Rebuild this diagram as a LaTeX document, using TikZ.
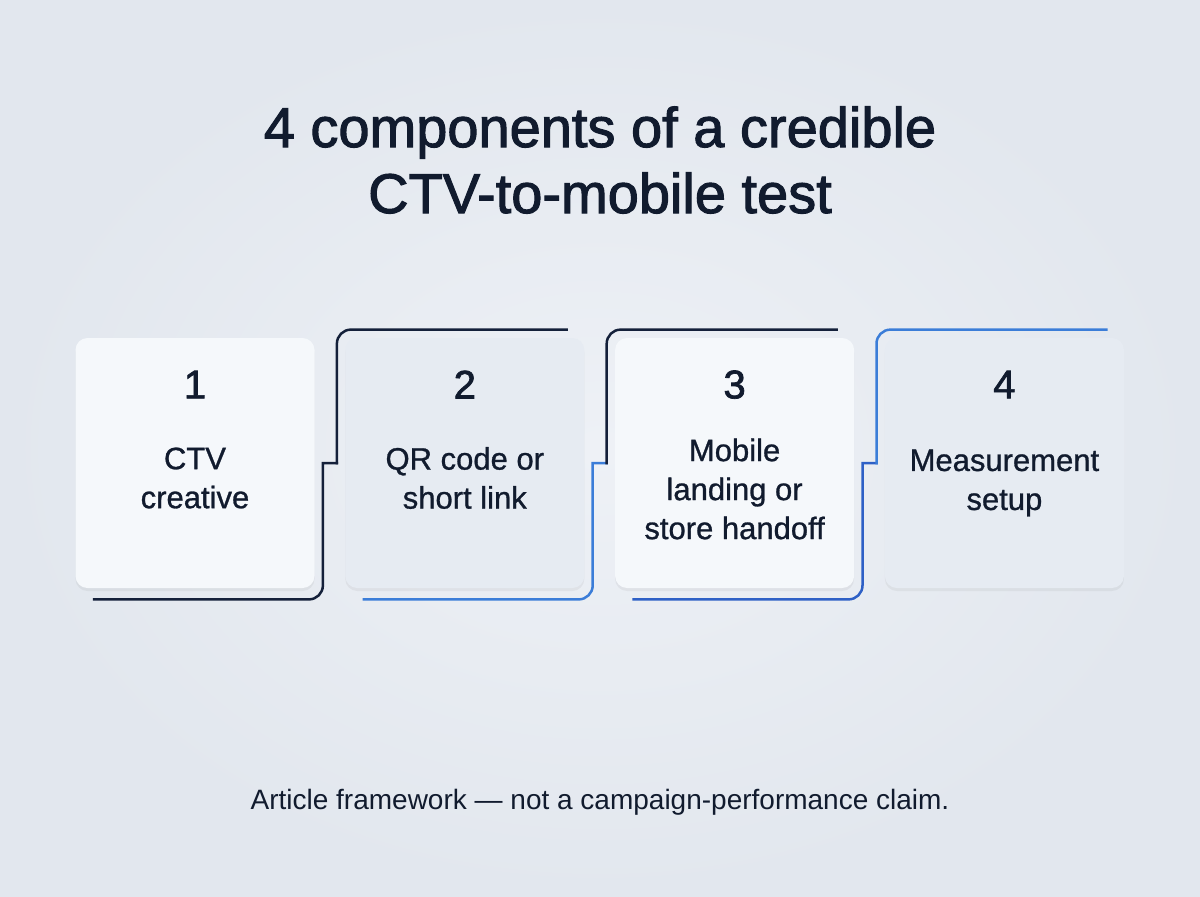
\documentclass[tikz,border=0pt]{standalone}
\usepackage{fontspec}
\setmainfont{Liberation Sans}
\newfontfamily\headfont{Liberation Sans}[FakeBold=1.8]
\newfontfamily\cardfont{Liberation Sans}[FakeBold=0.9]
\usetikzlibrary{positioning,calc,shadows}
\definecolor{bglight}{HTML}{EEF1F6}
\definecolor{bgdark}{HTML}{E2E7EE}
\definecolor{inkdark}{HTML}{111B2E}
\definecolor{linknavy}{HTML}{14203A}
\definecolor{linkblue}{HTML}{3B7DD8}
\definecolor{linkdeep}{HTML}{2E60C6}
\definecolor{cardlight}{HTML}{F5F8FB}
\definecolor{cardgrey}{HTML}{E6EBF2}

\begin{document}
\begin{tikzpicture}[
  x=0.5pt, y=-0.5pt,
  card/.style={rounded corners=6pt, minimum width=119.5pt, minimum height=125pt,
               inner sep=0pt,
               drop shadow={shadow xshift=0pt, shadow yshift=-1.5pt, opacity=0.10}},
  numtxt/.style={text=inkdark, font=\headfont\fontsize{20}{24}\selectfont},
  cardtxt/.style={text=inkdark, align=center, font=\cardfont\fontsize{15.5}{19.5}\selectfont},
  titletxt/.style={text=inkdark, align=center, font=\headfont\fontsize{28}{33}\selectfont},
  foottxt/.style={text=inkdark, font=\fontsize{14}{16}\selectfont},
  link/.style={line width=1.25pt, line cap=rect, rounded corners=7pt},
]
% --- Background ---
\shade[inner color=bglight, outer color=bgdark] (0,0) rectangle (1200,896);
\useasboundingbox (0,0) rectangle (1200,896);

% --- Title ---
\node[titletxt] (title) at (600,160) {4 components of a credible\\CTV-to-mobile test};

% --- Cards ---
\node[card, fill=cardlight]               (b1) at (195,463) {};
\node[card, fill=cardgrey,  right=15pt of b1] (b2) {};
\node[card, fill=cardlight, right=15pt of b2] (b3) {};
\node[card, fill=cardgrey,  right=15pt of b3] (b4) {};

% Numbers and labels
\foreach \b/\n in {b1/1, b2/2, b3/3, b4/4}
  \node[numtxt] (n\n) at ($(\b.north)+(0,47)$) {\n};
\node[cardtxt] (t1) at ($(b1.center)+(0,15)$) {CTV\\creative};
\node[cardtxt] (t2) at ($(b2.center)+(0,15)$) {QR code or\\short link};
\node[cardtxt] (t3) at ($(b3.center)+(0,26)$) {Mobile\\landing or\\store handoff};
\node[cardtxt] (t4) at ($(b4.center)+(0,20)$) {Measurement\\setup};

% --- Step connectors: under one card, up over the next ---
\foreach \a/\b/\lowc/\upc in {b1/b2/linknavy/linknavy,
                              b2/b3/linkblue/linknavy,
                              b3/b4/linkdeep/linkblue}{
  \draw[link, \lowc] ($(\a.south west)+(19,11)$) -- ($(\a.south east)+(8,11)$)
        [sharp corners] -- ($(\a.east)+(8,0)$) -- ($(\b.west)+(-8,0)$);
  \draw[link, \upc] ($(\b.west)+(-8,0)$) -- ($(\b.north west)+(-8,-8)$)
        -- ($(\b.north east)+(-18,-8)$);
}

% --- Footer ---
\node[foottxt] (foot) at (600,802) {Article framework --- not a campaign-performance claim.};
\end{tikzpicture}
\end{document}
